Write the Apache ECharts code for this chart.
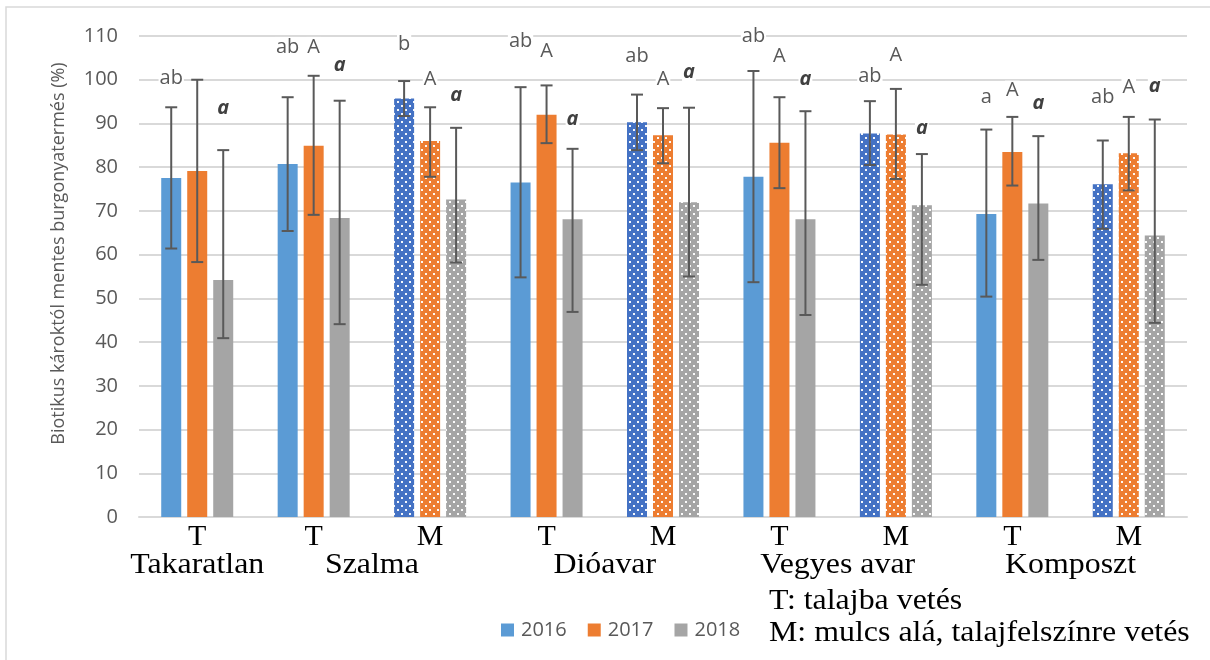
<!DOCTYPE html>
<html>
<head>
<meta charset="utf-8">
<script src="https://cdn.jsdelivr.net/npm/echarts@6/dist/echarts.min.js"></script>
<style>
  html, body { margin: 0; padding: 0; background: #ffffff; }
  #chart { width: 1210px; height: 660px; }
</style>
</head>
<body>
<div id="chart"></div>
<script>
// Sowing method per column: T = into the soil, M = under the mulch
const categories = ['T', 'T', 'M', 'T', 'M', 'T', 'M', 'T', 'M'];
const groupNames = ['Takaratlan', 'Szalma', 'Dióavar', 'Vegyes avar', 'Komposzt'];
const groupSpans = [[0, 0], [1, 2], [3, 4], [5, 6], [7, 8]];
const years = ['2016', '2017', '2018'];
const yTicks = { min: 0, max: 110, step: 10 };

// Mean yield free of biotic damage (%)
const mean2016 = [77.5, 80.7, 95.7, 76.5, 90.3, 77.8, 87.7, 69.3, 76.1];
const mean2017 = [79.1, 84.9, 86.0, 92.0, 87.3, 85.6, 87.5, 83.5, 83.2];
const mean2018 = [54.2, 68.4, 72.6, 68.1, 72.0, 68.1, 71.3, 71.7, 64.4];

// Error bar ends
const low2016  = [61.4, 65.4, 91.7, 54.8, 83.9, 53.7, 80.5, 50.4, 65.9];
const high2016 = [93.7, 96.0, 99.7, 98.3, 96.6, 102.0, 95.1, 88.6, 86.1];
const low2017  = [58.3, 69.1, 77.8, 85.5, 80.9, 75.2, 77.3, 75.8, 74.7];
const high2017 = [100.0, 100.9, 93.7, 98.7, 93.5, 96.0, 97.9, 91.5, 91.5];
const low2018  = [40.9, 44.1, 58.2, 46.9, 55.0, 46.2, 53.1, 58.8, 44.4];
const high2018 = [83.9, 95.2, 89.0, 84.2, 93.6, 92.8, 83.0, 87.1, 90.9];

// Significance letters and the axis value they sit at
const letters2016 = ['ab', 'ab', 'b', 'ab', 'ab', 'ab', 'ab', 'a', 'ab'];
const letters2017 = ['', 'A', 'A', 'A', 'A', 'A', 'A', 'A', 'A'];
const letters2018 = ['a', 'a', 'a', 'a', 'a', 'a', 'a', 'a', 'a'];
const letterAt2016 = [100.4, 107.5, 108.2, 108.7, 105.4, 110.0, 100.7, 96.0, 96.0];
const letterAt2017 = [0, 107.5, 100.1, 106.4, 100.2, 105.4, 105.5, 97.5, 98.2];
const letterAt2018 = [93.5, 103.4, 96.5, 91.0, 101.7, 100.1, 88.9, 94.6, 98.6];

const notes = ['T: talajba vetés', 'M: mulcs alá, talajfelszínre vetés'];

const means = [mean2016, mean2017, mean2018];
const lows = [low2016, low2017, low2018];
const highs = [high2016, high2017, high2018];
const letters = [letters2016, letters2017, letters2018];
const letterAt = [letterAt2016, letterAt2017, letterAt2018];

const solidColors = ['#5B9BD5', '#ED7D31', '#A5A5A5'];
const mulchColors = ['#4472C4', '#ED7D31', '#A5A5A5'];

const SANS = '"Open Sans", "Liberation Sans", sans-serif';
const SERIF = '"Liberation Serif", "Times New Roman", serif';
const BAR_W = 20;
const BAR_STEP = 26; // bar width plus gap
const INK = '#595959';
const SERIF_STRETCH = 1.1; // the serif captions are set slightly wide

// White dot grid fill used for the mulch columns
function dotPattern(base) {
  const c = document.createElement('canvas');
  c.width = 8; c.height = 8;
  const g = c.getContext('2d');
  g.fillStyle = base;
  g.fillRect(0, 0, 8, 8);
  g.fillStyle = 'rgba(255,255,255,0.95)';
  g.fillRect(1, 1, 2, 2);
  g.fillRect(5, 5, 2, 2);
  return { image: c, repeat: 'repeat' };
}

const chart = echarts.init(document.getElementById('chart'), null, { renderer: 'canvas' });

const barSeries = years.map((yr, k) => ({
  type: 'bar',
  name: yr,
  barWidth: BAR_W,
  barGap: '30%',
  itemStyle: { color: solidColors[k] },
  data: means[k].map((v, i) => categories[i] === 'M'
    ? { value: v, itemStyle: { color: dotPattern(mulchColors[k]) } }
    : v),
  z: 2
}));

const errorSeries = years.map((yr, k) => ({
  type: 'custom',
  z: 5,
  silent: true,
  data: lows[k].map((lo, i) => [i, lo, highs[k][i]]),
  encode: { x: 0, y: [1, 2] },
  renderItem(params, api) {
    const i = api.value(0);
    const pLo = api.coord([i, api.value(1)]);
    const pHi = api.coord([i, api.value(2)]);
    const x = pLo[0] + (k - 1) * BAR_STEP;
    const cap = 6;
    const style = { stroke: '#595959', lineWidth: 2 };
    return {
      type: 'group',
      children: [
        { type: 'line', shape: { x1: x, y1: pLo[1], x2: x, y2: pHi[1] }, style },
        { type: 'line', shape: { x1: x - cap, y1: pHi[1], x2: x + cap, y2: pHi[1] }, style },
        { type: 'line', shape: { x1: x - cap, y1: pLo[1], x2: x + cap, y2: pLo[1] }, style }
      ]
    };
  }
}));

const letterSeries = years.map((yr, k) => ({
  type: 'custom',
  z: 6,
  silent: true,
  clip: false,
  data: letterAt[k].map((v, i) => [i, v]),
  encode: { x: 0, y: 1 },
  renderItem(params, api) {
    const txt = letters[k][params.dataIndex];
    if (!txt) return null;
    const p = api.coord([api.value(0), api.value(1)]);
    return {
      type: 'text',
      x: p[0] + (k - 1) * BAR_STEP,
      y: p[1],
      style: {
        text: txt,
        align: 'center',
        verticalAlign: 'middle',
        fill: k === 2 ? '#404040' : INK,
        font: (k === 2 ? 'italic bold ' : '') + '20px ' + SANS,
        backgroundColor: '#ffffff',
        padding: [0, 1]
      }
    };
  }
}));

// Treatment names centred under their columns
const groupSeries = {
  type: 'custom',
  silent: true,
  clip: false,
  data: groupSpans.map(s => [s[0], s[1]]),
  encode: { x: [0, 1] },
  renderItem(params, api) {
    const a = api.coord([api.value(0), 0]);
    const b = api.coord([api.value(1), 0]);
    return {
      type: 'text',
      x: (a[0] + b[0]) / 2,
      y: a[1] + 48.5,
      scaleX: SERIF_STRETCH,
      style: {
        text: groupNames[params.dataIndex],
        align: 'center',
        verticalAlign: 'middle',
        fill: '#000000',
        font: '29px ' + SERIF
      }
    };
  }
};

chart.setOption({
  animation: false,
  backgroundColor: '#ffffff',
  grid: { left: 139, right: 23, top: 36, bottom: 143, containLabel: false },
  legend: {
    data: years,
    left: 496,
    top: 615,
    itemWidth: 13,
    itemHeight: 13,
    itemGap: 21,
    icon: 'rect',
    selectedMode: false,
    textStyle: { fontFamily: SANS, fontSize: 20, color: INK, lineHeight: 20, padding: [0, 0, 0, 2] }
  },
  xAxis: {
    type: 'category',
    data: categories,
    axisLine: { show: true, lineStyle: { color: '#d9d9d9', width: 2 } },
    axisTick: { show: false },
    axisLabel: {
      interval: 0,
      margin: 20,
      verticalAlign: 'middle',
      fontFamily: SERIF,
      fontSize: 30,
      lineHeight: 30,
      color: '#000000'
    }
  },
  yAxis: {
    type: 'value',
    min: yTicks.min,
    max: yTicks.max,
    interval: yTicks.step,
    axisLine: { show: false },
    axisTick: { show: false },
    splitLine: { lineStyle: { color: '#d9d9d9', width: 2 } },
    axisLabel: { margin: 21, fontFamily: SANS, fontSize: 20, color: INK }
  },
  graphic: [
    {
      type: 'rect',
      shape: { x: 6, y: 7, width: 1230, height: 700 },
      style: { fill: 'none', stroke: '#d9d9d9', lineWidth: 1.5 },
      silent: true,
      z: -10
    },
    {
      type: 'text',
      x: 59,
      y: 253.5,
      rotation: Math.PI / 2,
      style: {
        text: 'Biotikus károktól mentes burgonyatermés (%)',
        align: 'center',
        verticalAlign: 'middle',
        fill: INK,
        font: '18px ' + SANS
      }
    },
    {
      type: 'text',
      x: 769,
      y: 601,
      scaleX: SERIF_STRETCH,
      style: { text: notes[0], align: 'left', verticalAlign: 'middle', fill: '#000000', font: '29px ' + SERIF }
    },
    {
      type: 'text',
      x: 769,
      y: 633,
      scaleX: SERIF_STRETCH,
      style: { text: notes[1], align: 'left', verticalAlign: 'middle', fill: '#000000', font: '29px ' + SERIF }
    }
  ],
  series: [...barSeries, ...errorSeries, ...letterSeries, groupSeries]
});
</script>
</body>
</html>
